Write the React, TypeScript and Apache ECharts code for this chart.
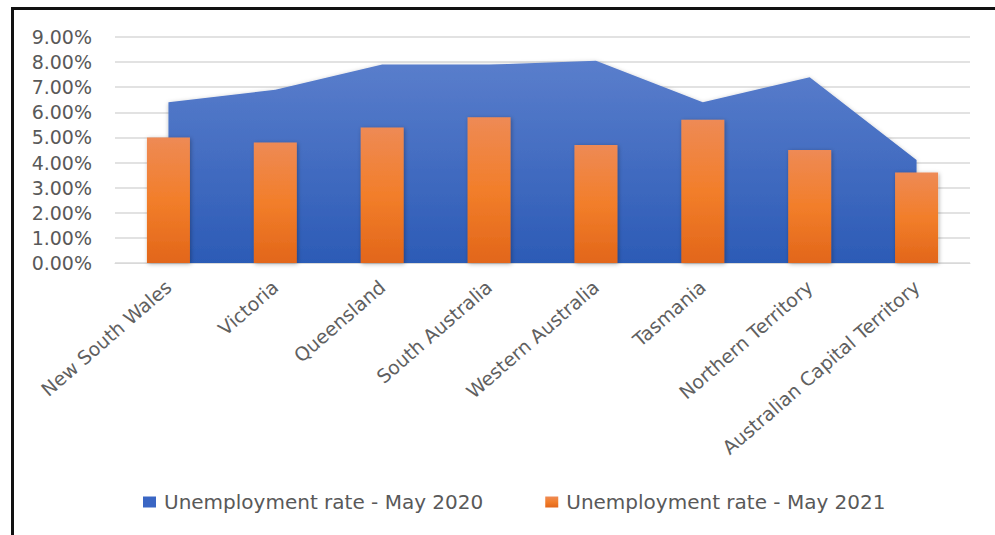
import React, { useEffect, useRef } from "react";
import * as echarts from "echarts";

const categories = [
  "New South Wales",
  "Victoria",
  "Queensland",
  "South Australia",
  "Western Australia",
  "Tasmania",
  "Northern Territory",
  "Australian Capital Territory",
];
const rate2020 = [6.4, 6.9, 7.9, 7.9, 8.05, 6.4, 7.4, 4.1];
const rate2021 = [5.0, 4.8, 5.4, 5.8, 4.7, 5.7, 4.5, 3.6];
const seriesNames = ["Unemployment rate - May 2020", "Unemployment rate - May 2021"];
const yTicks = { min: 0, max: 9, interval: 1 };

export default function App() {
  const ref = useRef<HTMLDivElement>(null);
  useEffect(() => {
    if (!ref.current) return;
    const chart = echarts.init(ref.current, undefined, { renderer: "svg" });
    const font = "DejaVu Sans";
    chart.setOption({
      animation: false,
      backgroundColor: "#ffffff",
      grid: { left: 115, right: 25, top: 37, bottom: 272, containLabel: false },
      legend: {
        left: 143,
        top: 492,
        padding: 0,
        itemGap: 62,
        itemWidth: 13,
        itemHeight: 11,
        icon: "rect",
        textStyle: { fontFamily: font, fontSize: 20, color: "#595959", padding: [0, 0, 0, 3] },
        data: seriesNames,
      },
      xAxis: {
        type: "category",
        data: categories,
        boundaryGap: true,
        axisLine: { show: true, lineStyle: { color: "#D9D9D9", width: 1 } },
        axisTick: { show: false },
        axisLabel: {
          rotate: 41,
          margin: 21,
          interval: 0,
          fontFamily: font,
          fontSize: 19,
          color: "#606060",
        },
      },
      yAxis: {
        type: "value",
        min: yTicks.min,
        max: yTicks.max,
        interval: yTicks.interval,
        axisLine: { show: false },
        axisTick: { show: false },
        splitLine: { lineStyle: { color: "#D9D9D9", width: 1.5 } },
        axisLabel: {
          margin: 23,
          fontFamily: font,
          fontSize: 19,
          color: "#595959",
          formatter: (v: number) => v.toFixed(2) + "%",
        },
      },
      series: [
        {
          name: seriesNames[0],
          type: "line",
          data: rate2020,
          symbol: "none",
          lineStyle: { width: 0 },
          itemStyle: { color: "#3A66C4" },
          areaStyle: {
            opacity: 1,
            color: new echarts.graphic.LinearGradient(0, 0, 0, 1, [
              { offset: 0, color: "#5A7ECC" },
              { offset: 1, color: "#2C5BB6" },
            ]),
            shadowBlur: 4,
            shadowColor: "rgba(0,0,0,0.25)",
            shadowOffsetY: 1,
          },
          z: 1,
        },
        {
          name: seriesNames[1],
          type: "bar",
          data: rate2021,
          barWidth: 43,
          itemStyle: {
            color: new echarts.graphic.LinearGradient(0, 0, 0, 1, [
              { offset: 0, color: "#EE8A55" },
              { offset: 0.5, color: "#F27E2A" },
              { offset: 1, color: "#E2661A" },
            ]),
            shadowBlur: 4,
            shadowColor: "rgba(0,0,0,0.3)",
            shadowOffsetX: 1,
            shadowOffsetY: 1,
          },
          z: 2,
        },
      ],
    });
    return () => chart.dispose();
  }, []);
  return (
    <div style={{ position: "fixed", left: 0, top: 0, width: 995, height: 535, background: "#fff" }}>
      <div ref={ref} style={{ position: "absolute", left: 0, top: 0, width: 995, height: 535 }} />
      <div
        style={{
          position: "absolute",
          left: 11,
          top: 7,
          width: 1000,
          height: 540,
          borderLeft: "3px solid #111",
          borderTop: "3px solid #111",
          pointerEvents: "none",
        }}
      />
    </div>
  );
}
